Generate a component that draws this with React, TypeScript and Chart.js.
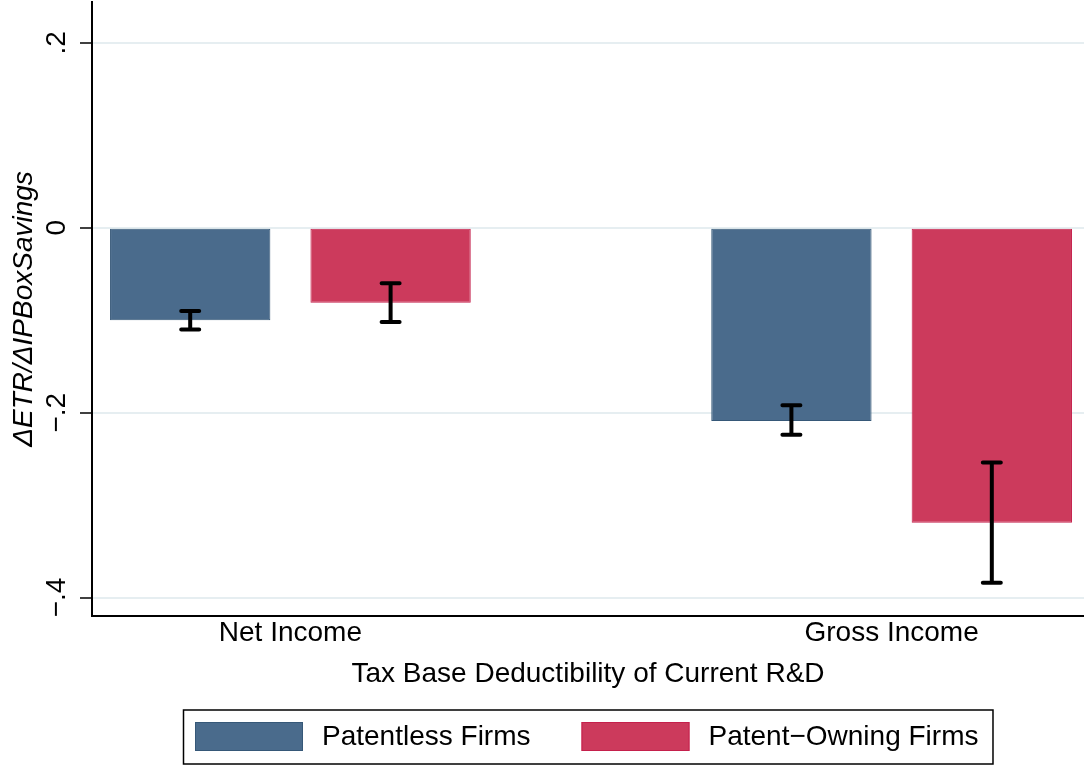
import { useEffect, useRef } from "react";
import { Chart, registerables } from "chart.js";

Chart.register(...registerables);

// Categories on the x axis
const categories = ["Net Income", "Gross Income"];

// Series names
const seriesNames = ["Patentless Firms", "Patent\u2212Owning Firms"];

// Point estimates
const patentless = [-0.1, -0.209];
const patentOwning = [-0.081, -0.319];

// Confidence bounds
const patentlessLow = [-0.11, -0.224];
const patentlessHigh = [-0.09, -0.192];
const patentOwningLow = [-0.102, -0.384];
const patentOwningHigh = [-0.06, -0.254];

// Y axis ticks and their labels
const yTicks = [-0.4, -0.2, 0, 0.2];
const yTickLabels = ["\u2212.4", "\u2212.2", "0", ".2"];

const FONT = "'Liberation Sans', Arial, Helvetica, sans-serif";
const FS = 28;
const BLUE = "#4A6B8C";
const BLUE_EDGE = "#365878";
const RED = "#CC3A5C";
const RED_EDGE = "#C5204C";

// half the distance between the two bars of a group, in category units
const GROUP_OFFSET = 1 / 6;
const LEGEND_SPACE = 65;

const errorBars = {
  id: "errorBars",
  afterDatasetsDraw(chart: any) {
    const { ctx } = chart;
    const y = chart.scales.y;
    chart.data.datasets.forEach((ds: any, di: number) => {
      const meta = chart.getDatasetMeta(di);
      meta.data.forEach((bar: any, i: number) => {
        const x = bar.x;
        const yl = y.getPixelForValue(ds.errLow[i]);
        const yh = y.getPixelForValue(ds.errHigh[i]);
        const half = 9;
        ctx.save();
        ctx.strokeStyle = "#000";
        ctx.lineWidth = 4;
        ctx.lineCap = "round";
        ctx.beginPath();
        ctx.moveTo(x, yl);
        ctx.lineTo(x, yh);
        ctx.moveTo(x - half, yl);
        ctx.lineTo(x + half, yl);
        ctx.moveTo(x - half, yh);
        ctx.lineTo(x + half, yh);
        ctx.stroke();
        ctx.restore();
      });
    });
  },
};

const boxedLegend = {
  id: "boxedLegend",
  afterDraw(chart: any) {
    const { ctx, chartArea } = chart;
    const swW = 108;
    const swH = 29;
    const txtGap = 19;
    const itemGap = 51;
    const padL = 12;
    const padR = 14;
    const boxTop = chart.height - LEGEND_SPACE + 9.5;
    const boxH = 54;
    ctx.save();
    ctx.font = `${FS}px ${FONT}`;
    const items = chart.data.datasets.map((ds: any) => ({
      label: ds.label,
      fill: ds.backgroundColor,
      edge: ds.borderColor,
      w: ctx.measureText(ds.label).width,
    }));
    let total = padL + padR;
    items.forEach((it: any, i: number) => {
      total += swW + txtGap + it.w + (i > 0 ? itemGap : 0);
    });
    const left = Math.round((chartArea.left + chartArea.right) / 2 - total / 2);
    ctx.strokeStyle = "#000";
    ctx.lineWidth = 1.5;
    ctx.strokeRect(left + 0.5, boxTop + 0.5, total, boxH);
    let x = left + padL;
    const swTop = boxTop + 12.5;
    items.forEach((it: any) => {
      ctx.fillStyle = it.fill;
      ctx.fillRect(x, swTop, swW, swH);
      ctx.strokeStyle = it.edge;
      ctx.lineWidth = 1;
      ctx.strokeRect(x + 0.5, swTop + 0.5, swW - 1, swH - 1);
      ctx.fillStyle = "#000";
      ctx.textAlign = "left";
      ctx.textBaseline = "middle";
      ctx.fillText(it.label, x + swW + txtGap, swTop + swH / 2 + 0.5);
      x += swW + txtGap + it.w + itemGap;
    });
    ctx.restore();
  },
};

export default function App() {
  const ref = useRef<HTMLCanvasElement>(null);

  useEffect(() => {
    const canvas = ref.current;
    if (!canvas) return;
    const place = (vals: number[], side: number) =>
      vals.map((v, i) => ({ x: i + 1 + side * GROUP_OFFSET, y: v }));

    const chart = new Chart(canvas, {
      type: "bar",
      data: {
        datasets: [
          {
            label: seriesNames[0],
            data: place(patentless, -1),
            backgroundColor: BLUE,
            borderColor: BLUE_EDGE,
            borderWidth: 1,
            borderSkipped: false,
            grouped: false,
            categoryPercentage: 1,
            barPercentage: 0.8,
            errLow: patentlessLow,
            errHigh: patentlessHigh,
          } as any,
          {
            label: seriesNames[1],
            data: place(patentOwning, 1),
            backgroundColor: RED,
            borderColor: RED_EDGE,
            borderWidth: 1,
            borderSkipped: false,
            grouped: false,
            categoryPercentage: 1,
            barPercentage: 0.8,
            errLow: patentOwningLow,
            errHigh: patentOwningHigh,
          } as any,
        ],
      },
      options: {
        responsive: false,
        animation: false,
        devicePixelRatio: 1,
        layout: { padding: { top: 2, left: 0, right: 0, bottom: LEGEND_SPACE } },
        plugins: {
          legend: { display: false },
          tooltip: { enabled: false },
        },
        scales: {
          x: {
            type: "linear",
            offset: false,
            min: 0.67,
            max: 2.32,
            afterBuildTicks: (s: any) => {
              s.ticks = categories.map((_, i) => ({ value: i + 1 }));
            },
            afterFit: (s: any) => {
              s.height = 84;
              s.paddingLeft = 0;
              s.paddingRight = 0;
            },
            grid: { display: false, drawTicks: false },
            border: { display: true, color: "#000", width: 2 },
            ticks: {
              color: "#000",
              font: { family: FONT, size: FS },
              padding: 0,
              maxRotation: 0,
              autoSkip: false,
              callback: (_v: any, i: number) => categories[i],
            },
            title: {
              display: true,
              text: "Tax Base Deductibility of Current R&D",
              color: "#000",
              font: { family: FONT, size: FS },
              padding: { top: 0, bottom: 8.5 },
            },
          },
          y: {
            min: -0.42,
            max: 0.2443,
            afterBuildTicks: (s: any) => {
              s.ticks = yTicks.map((v) => ({ value: v }));
            },
            afterFit: (s: any) => {
              s.width = 92;
              s.paddingTop = 0;
              s.paddingBottom = 0;
            },
            grid: {
              color: "#E6EEF1",
              lineWidth: 2,
              drawTicks: true,
              tickLength: 12,
              tickColor: "#000",
              tickWidth: 1.5,
            },
            border: { display: true, color: "#000", width: 2 },
            ticks: {
              color: "#000",
              font: { family: FONT, size: FS },
              padding: 3,
              crossAlign: "center",
              minRotation: 90,
              maxRotation: 90,
              callback: (_v: any, i: number) => yTickLabels[i],
            },
            title: {
              display: true,
              text: "\u0394ETR/\u0394IPBoxSavings",
              color: "#000",
              font: { family: FONT, size: FS, style: "italic" },
              padding: { top: 7, bottom: 0 },
            },
          },
        },
      },
      plugins: [errorBars, boxedLegend],
    });
    return () => chart.destroy();
  }, []);

  return (
    <div
      style={{
        position: "absolute",
        left: 0,
        top: 0,
        width: 1084,
        height: 765,
        background: "#fff",
      }}
    >
      <canvas
        ref={ref}
        width={1084}
        height={765}
        style={{ display: "block", width: 1084, height: 765 }}
      />
    </div>
  );
}
